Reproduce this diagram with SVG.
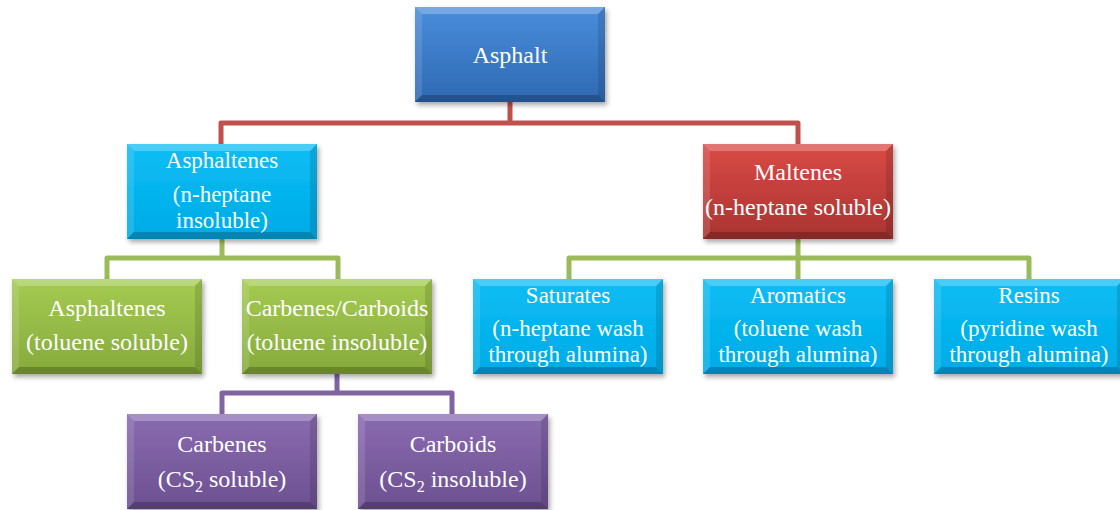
<svg xmlns="http://www.w3.org/2000/svg" xmlns:xlink="http://www.w3.org/1999/xlink" width="1120" height="510" viewBox="0 0 1120 510">
<defs>
<linearGradient id="gBlue" x1="0" y1="0" x2="0" y2="1"><stop offset="0" stop-color="#4a8ddb"/><stop offset="1" stop-color="#2e69b3"/></linearGradient>
<linearGradient id="gCyan" x1="0" y1="0" x2="0" y2="1"><stop offset="0" stop-color="#0bbdf5"/><stop offset="1" stop-color="#00abe6"/></linearGradient>
<linearGradient id="gRed" x1="0" y1="0" x2="0" y2="1"><stop offset="0" stop-color="#da4a46"/><stop offset="1" stop-color="#a93431"/></linearGradient>
<linearGradient id="gGreen" x1="0" y1="0" x2="0" y2="1"><stop offset="0" stop-color="#a5cb52"/><stop offset="1" stop-color="#86aa3c"/></linearGradient>
<linearGradient id="gPurple" x1="0" y1="0" x2="0" y2="1"><stop offset="0" stop-color="#8a6bb0"/><stop offset="1" stop-color="#6c5090"/></linearGradient>
<filter id="sh" x="-10%" y="-10%" width="130%" height="130%">
<feDropShadow dx="2" dy="3" stdDeviation="2.5" flood-color="#000" flood-opacity="0.35"/>
</filter>
<g id="bevel">
<polygon points="0,0 190,0 183,7 7,7" fill="#fff" fill-opacity="0.25"/>
<polygon points="0,0 7,7 7,88 0,95" fill="#fff" fill-opacity="0.12"/>
<polygon points="190,0 183,7 183,88 190,95" fill="#000" fill-opacity="0.12"/>
<polygon points="0,95 7,88 183,88 190,95" fill="#000" fill-opacity="0.22"/>
</g>
</defs>
<style>
.box{filter:url(#sh);}
.t{font-size:24px;fill:#fff;text-anchor:middle;}
.s{font-size:23px;}
.c{fill:none;stroke-width:5;stroke-linejoin:round;}
.cr{stroke:#c0504d;}
.cg{stroke:#9bbb59;}
.cp{stroke:#8064a2;}
</style>
<g id="connectors">
<path class="c cr" d="M510,102 V123 M221,144 V123 H798 V145"/>
<path class="c cg" d="M222,238 V258 M107,279 V258 H338 V279"/>
<path class="c cg" d="M798,238 V258 M569,279 V258 H1029 V279 M798,258 V279"/>
<path class="c cp" d="M337,374 V393 M222,414 V393 H452 V414"/>
</g>
<g font-family="'Liberation Serif', 'Times New Roman', 'DejaVu Serif', serif">
<g id="asphalt">
<rect class="box" x="415" y="7" width="190" height="95" fill="url(#gBlue)"/>
<use xlink:href="#bevel" x="415" y="7"/>
<text class="t" x="510" y="63">Asphalt</text>
</g>
<g id="asphaltenes">
<rect class="box" x="127" y="144" width="190" height="95" fill="url(#gCyan)"/>
<use xlink:href="#bevel" x="127" y="144"/>
<text class="t s" x="222" y="168">Asphaltenes</text>
<text class="t s" x="222" y="202">(n-heptane</text>
<text class="t s" x="222" y="228">insoluble)</text>
</g>
<g id="maltenes">
<rect class="box" x="703" y="144" width="190" height="95" fill="url(#gRed)"/>
<use xlink:href="#bevel" x="703" y="144"/>
<text class="t" x="798" y="180">Maltenes</text>
<text class="t" x="798" y="215">(n-heptane soluble)</text>
</g>
<g id="asphaltenes-toluene">
<rect class="box" x="12" y="279" width="190" height="95" fill="url(#gGreen)"/>
<use xlink:href="#bevel" x="12" y="279"/>
<text class="t" x="107" y="316">Asphaltenes</text>
<text class="t" x="107" y="350">(toluene soluble)</text>
</g>
<g id="carbenes-carboids">
<rect class="box" x="242" y="279" width="190" height="95" fill="url(#gGreen)"/>
<use xlink:href="#bevel" x="242" y="279"/>
<text class="t" x="337" y="316">Carbenes/Carboids</text>
<text class="t" x="337" y="350">(toluene insoluble)</text>
</g>
<g id="saturates">
<rect class="box" x="473" y="279" width="190" height="95" fill="url(#gCyan)"/>
<use xlink:href="#bevel" x="473" y="279"/>
<text class="t s" x="568" y="303">Saturates</text>
<text class="t s" x="568" y="336">(n-heptane wash</text>
<text class="t s" x="568" y="362">through alumina)</text>
</g>
<g id="aromatics">
<rect class="box" x="703" y="279" width="190" height="95" fill="url(#gCyan)"/>
<use xlink:href="#bevel" x="703" y="279"/>
<text class="t s" x="798" y="303">Aromatics</text>
<text class="t s" x="798" y="336">(toluene wash</text>
<text class="t s" x="798" y="362">through alumina)</text>
</g>
<g id="resins">
<rect class="box" x="934" y="279" width="190" height="95" fill="url(#gCyan)"/>
<use xlink:href="#bevel" x="934" y="279"/>
<text class="t s" x="1029" y="303">Resins</text>
<text class="t s" x="1029" y="336">(pyridine wash</text>
<text class="t s" x="1029" y="362">through alumina)</text>
</g>
<g id="carbenes">
<rect class="box" x="127" y="414" width="190" height="95" fill="url(#gPurple)"/>
<use xlink:href="#bevel" x="127" y="414"/>
<text class="t" x="222" y="452">Carbenes</text>
<text class="t" x="222" y="487">(CS<tspan dy="5" font-size="16">2</tspan><tspan dy="-5"> soluble)</tspan></text>
</g>
<g id="carboids">
<rect class="box" x="358" y="414" width="190" height="95" fill="url(#gPurple)"/>
<use xlink:href="#bevel" x="358" y="414"/>
<text class="t" x="453" y="452">Carboids</text>
<text class="t" x="453" y="487">(CS<tspan dy="5" font-size="16">2</tspan><tspan dy="-5"> insoluble)</tspan></text>
</g>
</g>
</svg>
